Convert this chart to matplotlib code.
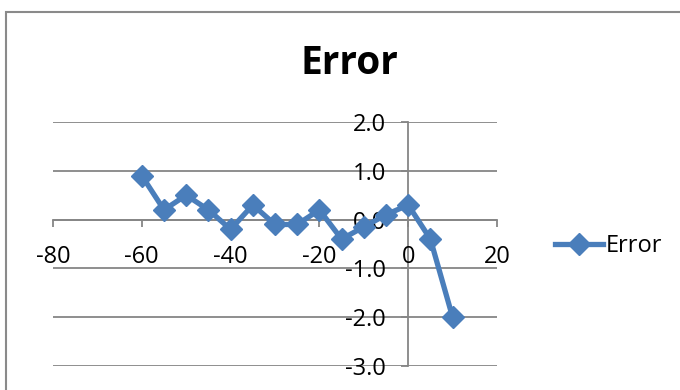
import matplotlib
matplotlib.use("Agg")
import matplotlib.pyplot as plt
from matplotlib.patches import Rectangle

# Data
x_values = [-60, -55, -50, -45, -40, -35, -30, -25, -20, -15, -10, -5, 0, 5, 10]
error_values = [0.9, 0.2, 0.5, 0.2, -0.2, 0.3, -0.1, -0.1, 0.2, -0.4, -0.15, 0.1, 0.3, -0.4, -2.0]
x_ticks = [-80, -60, -40, -20, 0, 20]
y_ticks = [-3.0, -2.0, -1.0, 0.0, 1.0, 2.0]
series_name = "Error"
title = "Error"

plt.rcParams['font.family'] = ['Open Sans', 'DejaVu Sans']

W, H = 680, 390
fig = plt.figure(figsize=(W / 100, H / 100), dpi=100)

# chart area border
fig.patches.append(Rectangle((6 / W, -0.1), 1.2, (H - 12) / H + 0.1,
                             transform=fig.transFigure, fill=False,
                             edgecolor='#8a8a8a', linewidth=1.5))

ax = fig.add_axes([53 / W, (H - 366) / H, 444 / W, 244 / H])
ax.set_xlim(-80, 20)
ax.set_ylim(-3, 2)

grid_color = '#868686'
for yv in y_ticks:
    ax.axhline(yv, color=grid_color, linewidth=1.3, zorder=1)

for s in ['top', 'right']:
    ax.spines[s].set_visible(False)
ax.spines['left'].set_position(('data', 0))
ax.spines['bottom'].set_position(('data', 0))
for s in ['left', 'bottom']:
    ax.spines[s].set_color(grid_color)
    ax.spines[s].set_linewidth(1.3)
    ax.spines[s].set_zorder(1)

ax.set_xticks(x_ticks)
ax.set_xticklabels([f"{v:d}" for v in x_ticks])
ax.set_yticks(y_ticks)
ax.set_yticklabels([f"{v:.1f}" for v in y_ticks])
ax.tick_params(axis='x', direction='out', length=5, width=1.3, color=grid_color,
               labelsize=17, pad=13)
ax.tick_params(axis='y', direction='out', length=5, width=1.3, color=grid_color,
               labelsize=17, pad=11)

ax.plot(x_values, error_values, color='#4A7EBB', linewidth=3.8, marker='D',
        markersize=11, markerfacecolor='#4A7EBB', markeredgecolor='#4A7EBB',
        label=series_name, zorder=3, solid_joinstyle='round')

for lbl in ax.get_xticklabels() + ax.get_yticklabels():
    lbl.set_zorder(5)

fig.text(349 / W, 1 - 63 / H, title, ha='center', va='center',
         fontsize=28, fontweight='bold')

fig.legend(loc='center left', bbox_to_anchor=(546 / W, 1 - 246 / H),
           frameon=False, fontsize=17, handlelength=2.0, handletextpad=0.15,
           borderaxespad=0)

fig.savefig('out.png', dpi=100)
